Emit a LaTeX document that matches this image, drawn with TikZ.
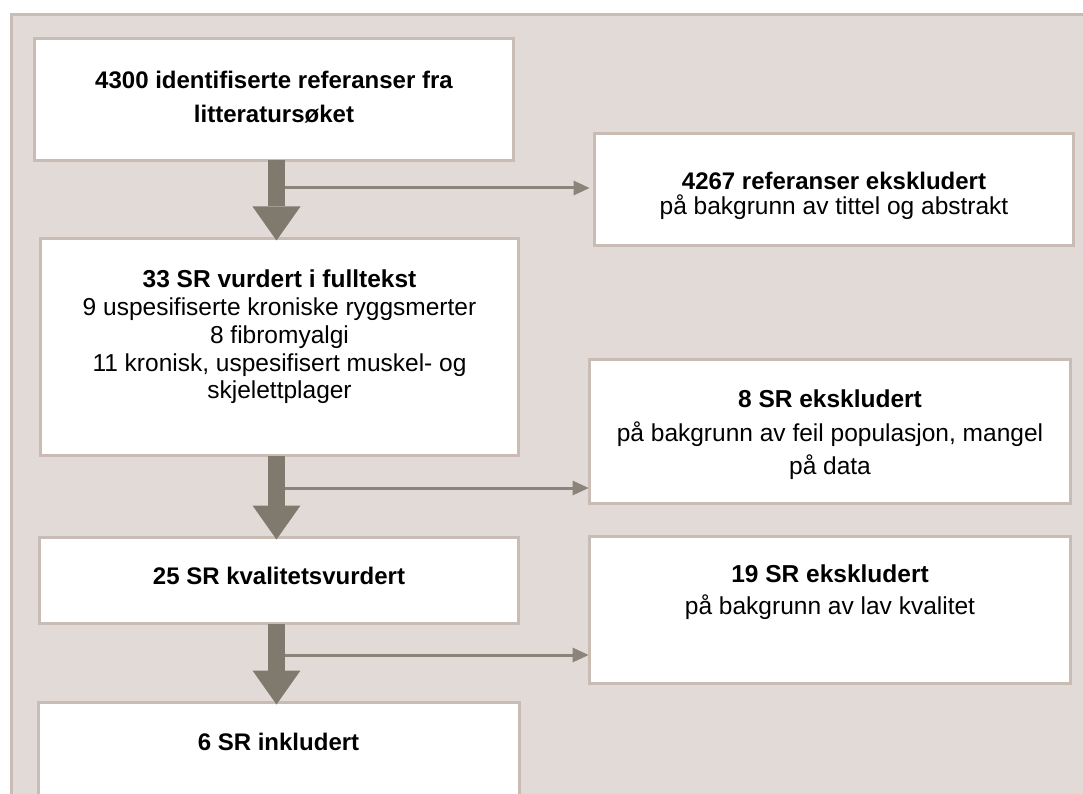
\documentclass[tikz,border=0pt]{standalone}
\usepackage{fontspec}
\setmainfont{Liberation Sans}
\usetikzlibrary{positioning,arrows.meta,calc}
\definecolor{panelbg}{HTML}{E2DAD6}
\definecolor{edgegrey}{HTML}{C8BCB5}
\definecolor{flowgrey}{HTML}{807A6E}
\definecolor{linegrey}{HTML}{8C847A}

\begin{document}
\begin{tikzpicture}[
  x=1pt, y=-1pt,
  box/.style={draw=edgegrey, line width=3pt, fill=white, inner sep=0pt, outer sep=0pt},
  txt/.style={align=center, inner sep=0pt, outer sep=0pt},
  flow/.style={draw=flowgrey, line width=17pt,
    -{Triangle[width=48pt, length=34pt, line width=0pt]}},
  side/.style={draw=linegrey, line width=3pt,
    -{Triangle[width=15pt, length=16pt, line width=0pt]}}
]
\useasboundingbox (0,0) rectangle (1083,794);
% panel behind everything
\draw[draw=edgegrey, line width=2.5pt, fill=panelbg] (11.5,14.5) rectangle (1095,805);

\node[box, minimum width=479pt, minimum height=122pt] (found) at (274,99.5) {};
\node[box, minimum width=479pt, minimum height=112pt] (excl1) at (834,189.5) {};
\node[box, minimum width=478pt, minimum height=217pt] (fulltext) at (279.5,347) {};
\node[box, minimum width=481pt, minimum height=144pt] (excl2) at (830,431.5) {};
\node[box, minimum width=479pt, minimum height=86pt] (quality) at (279,580.5) {};
\node[box, minimum width=481pt, minimum height=147pt] (excl3) at (830,610) {};
\node[box, minimum width=481pt, minimum height=95pt] (included) at (278.5,750) {};

% texts
\node[txt, font=\fontsize{24}{34}\selectfont\bfseries, below=32.5pt of found.north]
  (found-t) {4300 identifiserte referanser fra\\litteratursøket};
\node[txt, font=\fontsize{24.5}{25}\selectfont, below=38.5pt of excl1.north]
  (excl1-t) {\fontsize{24}{25}\selectfont\textbf{4267 referanser ekskludert}\\på bakgrunn av tittel og abstrakt};
\node[txt, font=\fontsize{24.5}{27.75}\selectfont, below=31.5pt of fulltext.north]
  (fulltext-t) {\textbf{33 SR vurdert i fulltekst}\\9 uspesifiserte kroniske ryggsmerter\\8 fibromyalgi\\11 kronisk, uspesifisert muskel- og\\skjelettplager};
\node[txt, font=\fontsize{24.5}{33.5}\selectfont, below=30.5pt of excl2.north]
  (excl2-t) {\textbf{8 SR ekskludert}\\på bakgrunn av feil populasjon, mangel\\på data};
\node[txt, font=\fontsize{24}{32}\selectfont\bfseries, below=29.5pt of quality.north]
  (quality-t) {25 SR kvalitetsvurdert};
\node[txt, font=\fontsize{24.5}{32}\selectfont, below=28.5pt of excl3.north]
  (excl3-t) {\textbf{19 SR ekskludert}\\på bakgrunn av lav kvalitet};
\node[txt, font=\fontsize{24}{32}\selectfont\bfseries, below=30.5pt of included.north]
  (included-t) {6 SR inkludert};

% main flow down the left column
\coordinate (spine) at (276.5,0);
\draw[flow] (spine |- found.south) -- ([yshift=-2pt]spine |- fulltext.north);
\draw[flow] (spine |- fulltext.south) -- ([yshift=-2pt]spine |- quality.north);
\draw[flow] (spine |- quality.south) -- ([yshift=-2pt]spine |- included.north);

% exclusions branch off to the right
\coordinate (j1) at (285,188);
\coordinate (j2) at (285,488);
\coordinate (j3) at (285,655);
\draw[side, shorten >=5pt] (j1) -- (j1 -| excl1.west);
\draw[side, shorten >=1pt] (j2) -- (j2 -| excl2.west);
\draw[side, shorten >=1pt] (j3) -- (j3 -| excl3.west);
\end{tikzpicture}
\end{document}
